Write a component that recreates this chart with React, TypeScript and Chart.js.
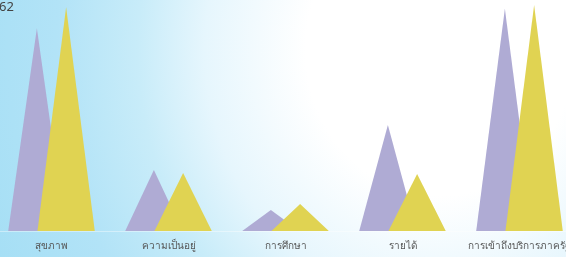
import React, { useEffect, useRef } from "react";
import { Chart, registerables } from "chart.js";

Chart.register(...registerables);

const categories = ["สุขภาพ", "ความเป็นอยู่", "การศึกษา", "รายได้", "การเข้าถึงบริการภาครัฐ"];
const seriesPurple = [56.2, 16.9, 5.8, 29.4, 61.6];
const seriesYellow = [62.0, 16.1, 7.5, 15.8, 62.6];
const yMax = 64;
const titleText = "62";

const PURPLE = "#afabd4";
const YELLOW = "#e0d352";

const trianglePlugin = {
  id: "triangles",
  afterDatasetsDraw(chart: any) {
    const ctx = chart.ctx;
    chart.data.datasets.forEach((ds: any, i: number) => {
      const meta = chart.getDatasetMeta(i);
      if (meta.hidden) return;
      meta.data.forEach((el: any) => {
        const { x, y, base, width } = el.getProps(["x", "y", "base", "width"], true);
        const half = width * 0.98;
        ctx.save();
        ctx.beginPath();
        ctx.moveTo(x - half, base);
        ctx.lineTo(x, y);
        ctx.lineTo(x + half, base);
        ctx.closePath();
        ctx.fillStyle = ds.triangleColor;
        ctx.fill();
        ctx.restore();
      });
    });
  },
};

export default function App() {
  const ref = useRef<HTMLCanvasElement | null>(null);
  useEffect(() => {
    document.body.style.margin = "0";
    if (!ref.current) return;
    const chart = new Chart(ref.current, {
      type: "bar",
      data: {
        labels: categories,
        datasets: [
          {
            label: "A",
            data: seriesPurple,
            backgroundColor: "rgba(0,0,0,0)",
            triangleColor: PURPLE,
          } as any,
          {
            label: "B",
            data: seriesYellow,
            backgroundColor: "rgba(0,0,0,0)",
            triangleColor: YELLOW,
          } as any,
        ],
      },
      options: {
        animation: false,
        responsive: false,
        maintainAspectRatio: false,
        layout: { padding: 0 },
        plugins: {
          legend: { display: false },
          tooltip: { enabled: false },
          title: { display: false },
        },
        datasets: {
          bar: { categoryPercentage: 0.5, barPercentage: 1 },
        },
        scales: {
          x: {
            offset: true,
            grid: { display: false, drawTicks: false },
            border: { display: true, color: "rgba(255,255,255,0.4)", width: 1 },
            ticks: {
              autoSkip: false,
              maxRotation: 0,
              minRotation: 0,
              padding: 9,
              color: "#555555",
              font: { family: "'Noto Sans', sans-serif", size: 10 },
            },
            afterFit(scale: any) {
              scale.height = 26;
              scale.paddingLeft = 0;
              scale.paddingRight = 0;
            },
          },
          y: {
            display: false,
            min: 0,
            max: yMax,
          },
        },
      },
      plugins: [trianglePlugin],
    });
    return () => chart.destroy();
  }, []);

  return (
    <div
      style={{
        position: "fixed",
        left: 0,
        top: 0,
        width: 566,
        height: 257,
        overflow: "hidden",
        background:
          "radial-gradient(ellipse 480px 520px at 440px 50px, #ffffff 0%, #ffffff 28%, #e6f6fd 49%, #c8ecf9 63%, #b2e3f7 80%, #a6dff5 100%)",
      }}
    >
      <canvas
        ref={ref}
        width={585}
        height={257}
        style={{ position: "absolute", left: -7, top: 0, width: 585, height: 257 }}
      />
      <div
        style={{
          position: "absolute",
          left: -1,
          top: -2,
          fontFamily: "'Noto Sans', sans-serif",
          fontSize: 13,
          color: "#444",
          lineHeight: "16px",
        }}
      >
        {titleText}
      </div>
    </div>
  );
}
